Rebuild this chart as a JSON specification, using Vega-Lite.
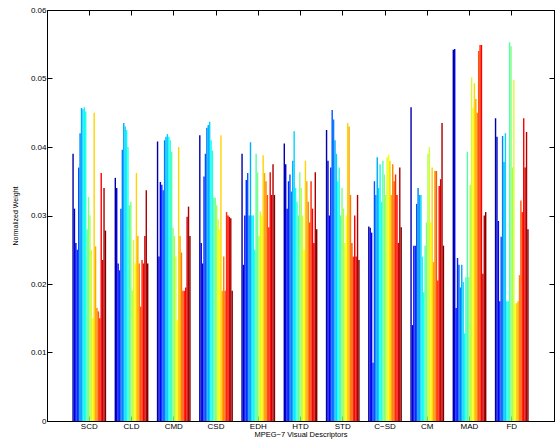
{
  "$schema": "https://vega.github.io/schema/vega-lite/v6.json",
  "width": 507,
  "height": 411,
  "autosize": "none",
  "padding": {"left": 47, "top": 10, "right": 1, "bottom": 19},
  "background": "white",
  "config": {
    "view": {"stroke": "black", "strokeWidth": 1},
    "axis": {
      "grid": false,
      "domainColor": "black",
      "tickColor": "black",
      "labelColor": "black",
      "titleColor": "black",
      "labelFont": "Liberation Sans",
      "titleFont": "Liberation Sans",
      "labelFontSize": 8,
      "titleFontSize": 8,
      "titleFontWeight": "normal"
    }
  },
  "datasets": {
    "w": [
      {"d":"SCD","k":1,"w":0.039},{"d":"SCD","k":2,"w":0.031},{"d":"SCD","k":3,"w":0.026},{"d":"SCD","k":4,"w":0.025},{"d":"SCD","k":5,"w":0.037},{"d":"SCD","k":6,"w":0.042},{"d":"SCD","k":7,"w":0.0457},{"d":"SCD","k":8,"w":0.0455},{"d":"SCD","k":9,"w":0.0458},{"d":"SCD","k":10,"w":0.0452},{"d":"SCD","k":11,"w":0.028},{"d":"SCD","k":12,"w":0.0327},{"d":"SCD","k":13,"w":0.030},{"d":"SCD","k":14,"w":0.025},{"d":"SCD","k":15,"w":0.015},{"d":"SCD","k":16,"w":0.045},{"d":"SCD","k":17,"w":0.0255},{"d":"SCD","k":18,"w":0.0165},{"d":"SCD","k":19,"w":0.016},{"d":"SCD","k":20,"w":0.015},{"d":"SCD","k":21,"w":0.0362},{"d":"SCD","k":22,"w":0.0235},{"d":"SCD","k":23,"w":0.034},{"d":"SCD","k":24,"w":0.0278},
      {"d":"CLD","k":1,"w":0.0355},{"d":"CLD","k":2,"w":0.034},{"d":"CLD","k":3,"w":0.023},{"d":"CLD","k":4,"w":0.022},{"d":"CLD","k":5,"w":0.031},{"d":"CLD","k":6,"w":0.0396},{"d":"CLD","k":7,"w":0.0435},{"d":"CLD","k":8,"w":0.043},{"d":"CLD","k":9,"w":0.0425},{"d":"CLD","k":10,"w":0.040},{"d":"CLD","k":11,"w":0.0315},{"d":"CLD","k":12,"w":0.032},{"d":"CLD","k":13,"w":0.019},{"d":"CLD","k":14,"w":0.0264},{"d":"CLD","k":15,"w":0.023},{"d":"CLD","k":16,"w":0.0362},{"d":"CLD","k":17,"w":0.027},{"d":"CLD","k":18,"w":0.023},{"d":"CLD","k":19,"w":0.0167},{"d":"CLD","k":20,"w":0.0235},{"d":"CLD","k":21,"w":0.023},{"d":"CLD","k":22,"w":0.027},{"d":"CLD","k":23,"w":0.0337},{"d":"CLD","k":24,"w":0.023},
      {"d":"CMD","k":1,"w":0.0408},{"d":"CMD","k":2,"w":0.024},{"d":"CMD","k":3,"w":0.0349},{"d":"CMD","k":4,"w":0.0345},{"d":"CMD","k":5,"w":0.0337},{"d":"CMD","k":6,"w":0.041},{"d":"CMD","k":7,"w":0.0415},{"d":"CMD","k":8,"w":0.0419},{"d":"CMD","k":9,"w":0.0415},{"d":"CMD","k":10,"w":0.041},{"d":"CMD","k":11,"w":0.0393},{"d":"CMD","k":12,"w":0.0282},{"d":"CMD","k":13,"w":0.027},{"d":"CMD","k":14,"w":0.024},{"d":"CMD","k":15,"w":0.0147},{"d":"CMD","k":16,"w":0.040},{"d":"CMD","k":17,"w":0.027},{"d":"CMD","k":18,"w":0.0246},{"d":"CMD","k":19,"w":0.019},{"d":"CMD","k":20,"w":0.019},{"d":"CMD","k":21,"w":0.0195},{"d":"CMD","k":22,"w":0.0298},{"d":"CMD","k":23,"w":0.0313},{"d":"CMD","k":24,"w":0.027},
      {"d":"CSD","k":1,"w":0.0417},{"d":"CSD","k":2,"w":0.026},{"d":"CSD","k":3,"w":0.023},{"d":"CSD","k":4,"w":0.0357},{"d":"CSD","k":5,"w":0.039},{"d":"CSD","k":6,"w":0.0428},{"d":"CSD","k":7,"w":0.0432},{"d":"CSD","k":8,"w":0.0437},{"d":"CSD","k":9,"w":0.041},{"d":"CSD","k":10,"w":0.0395},{"d":"CSD","k":11,"w":0.0326},{"d":"CSD","k":12,"w":0.0326},{"d":"CSD","k":13,"w":0.0315},{"d":"CSD","k":14,"w":0.0294},{"d":"CSD","k":15,"w":0.028},{"d":"CSD","k":16,"w":0.0417},{"d":"CSD","k":17,"w":0.019},{"d":"CSD","k":18,"w":0.024},{"d":"CSD","k":19,"w":0.019},{"d":"CSD","k":20,"w":0.0305},{"d":"CSD","k":21,"w":0.030},{"d":"CSD","k":22,"w":0.0298},{"d":"CSD","k":23,"w":0.0296},{"d":"CSD","k":24,"w":0.019},
      {"d":"EDH","k":1,"w":0.039},{"d":"EDH","k":2,"w":0.0228},{"d":"EDH","k":3,"w":0.030},{"d":"EDH","k":4,"w":0.0352},{"d":"EDH","k":5,"w":0.0362},{"d":"EDH","k":6,"w":0.030},{"d":"EDH","k":7,"w":0.0407},{"d":"EDH","k":8,"w":0.030},{"d":"EDH","k":9,"w":0.030},{"d":"EDH","k":10,"w":0.025},{"d":"EDH","k":11,"w":0.039},{"d":"EDH","k":12,"w":0.0363},{"d":"EDH","k":13,"w":0.027},{"d":"EDH","k":14,"w":0.0306},{"d":"EDH","k":15,"w":0.030},{"d":"EDH","k":16,"w":0.0388},{"d":"EDH","k":17,"w":0.0362},{"d":"EDH","k":18,"w":0.035},{"d":"EDH","k":19,"w":0.033},{"d":"EDH","k":20,"w":0.0283},{"d":"EDH","k":21,"w":0.0363},{"d":"EDH","k":22,"w":0.033},{"d":"EDH","k":23,"w":0.0375},{"d":"EDH","k":24,"w":0.033},
      {"d":"HTD","k":1,"w":0.0405},{"d":"HTD","k":2,"w":0.0375},{"d":"HTD","k":3,"w":0.031},{"d":"HTD","k":4,"w":0.035},{"d":"HTD","k":5,"w":0.036},{"d":"HTD","k":6,"w":0.0335},{"d":"HTD","k":7,"w":0.038},{"d":"HTD","k":8,"w":0.0423},{"d":"HTD","k":9,"w":0.034},{"d":"HTD","k":10,"w":0.032},{"d":"HTD","k":11,"w":0.030},{"d":"HTD","k":12,"w":0.0363},{"d":"HTD","k":13,"w":0.034},{"d":"HTD","k":14,"w":0.030},{"d":"HTD","k":15,"w":0.025},{"d":"HTD","k":16,"w":0.038},{"d":"HTD","k":17,"w":0.035},{"d":"HTD","k":18,"w":0.032},{"d":"HTD","k":19,"w":0.029},{"d":"HTD","k":20,"w":0.035},{"d":"HTD","k":21,"w":0.031},{"d":"HTD","k":22,"w":0.026},{"d":"HTD","k":23,"w":0.0363},{"d":"HTD","k":24,"w":0.028},
      {"d":"STD","k":1,"w":0.0425},{"d":"STD","k":2,"w":0.038},{"d":"STD","k":3,"w":0.030},{"d":"STD","k":4,"w":0.037},{"d":"STD","k":5,"w":0.0454},{"d":"STD","k":6,"w":0.044},{"d":"STD","k":7,"w":0.041},{"d":"STD","k":8,"w":0.039},{"d":"STD","k":9,"w":0.035},{"d":"STD","k":10,"w":0.037},{"d":"STD","k":11,"w":0.030},{"d":"STD","k":12,"w":0.034},{"d":"STD","k":13,"w":0.031},{"d":"STD","k":14,"w":0.026},{"d":"STD","k":15,"w":0.030},{"d":"STD","k":16,"w":0.0435},{"d":"STD","k":17,"w":0.043},{"d":"STD","k":18,"w":0.033},{"d":"STD","k":19,"w":0.026},{"d":"STD","k":20,"w":0.024},{"d":"STD","k":21,"w":0.030},{"d":"STD","k":22,"w":0.024},{"d":"STD","k":23,"w":0.033},{"d":"STD","k":24,"w":0.0235},
      {"d":"C−SD","k":1,"w":0.0284},{"d":"C−SD","k":2,"w":0.0282},{"d":"C−SD","k":3,"w":0.0275},{"d":"C−SD","k":4,"w":0.0085},{"d":"C−SD","k":5,"w":0.035},{"d":"C−SD","k":6,"w":0.033},{"d":"C−SD","k":7,"w":0.0385},{"d":"C−SD","k":8,"w":0.034},{"d":"C−SD","k":9,"w":0.0375},{"d":"C−SD","k":10,"w":0.032},{"d":"C−SD","k":11,"w":0.038},{"d":"C−SD","k":12,"w":0.036},{"d":"C−SD","k":13,"w":0.033},{"d":"C−SD","k":14,"w":0.0385},{"d":"C−SD","k":15,"w":0.0389},{"d":"C−SD","k":16,"w":0.038},{"d":"C−SD","k":17,"w":0.033},{"d":"C−SD","k":18,"w":0.0375},{"d":"C−SD","k":19,"w":0.035},{"d":"C−SD","k":20,"w":0.036},{"d":"C−SD","k":21,"w":0.033},{"d":"C−SD","k":22,"w":0.026},{"d":"C−SD","k":23,"w":0.037},{"d":"C−SD","k":24,"w":0.0283},
      {"d":"CM","k":1,"w":0.0458},{"d":"CM","k":2,"w":0.014},{"d":"CM","k":3,"w":0.0256},{"d":"CM","k":4,"w":0.0256},{"d":"CM","k":5,"w":0.0317},{"d":"CM","k":6,"w":0.034},{"d":"CM","k":7,"w":0.033},{"d":"CM","k":8,"w":0.033},{"d":"CM","k":9,"w":0.024},{"d":"CM","k":10,"w":0.0188},{"d":"CM","k":11,"w":0.0256},{"d":"CM","k":12,"w":0.029},{"d":"CM","k":13,"w":0.039},{"d":"CM","k":14,"w":0.040},{"d":"CM","k":15,"w":0.029},{"d":"CM","k":16,"w":0.037},{"d":"CM","k":17,"w":0.0232},{"d":"CM","k":18,"w":0.0365},{"d":"CM","k":19,"w":0.0365},{"d":"CM","k":20,"w":0.0205},{"d":"CM","k":21,"w":0.0343},{"d":"CM","k":22,"w":0.0353},{"d":"CM","k":23,"w":0.0435},{"d":"CM","k":24,"w":0.0256},
      {"d":"MAD","k":1,"w":0.0542},{"d":"MAD","k":2,"w":0.0543},{"d":"MAD","k":3,"w":0.0165},{"d":"MAD","k":4,"w":0.0238},{"d":"MAD","k":5,"w":0.0228},{"d":"MAD","k":6,"w":0.0195},{"d":"MAD","k":7,"w":0.0228},{"d":"MAD","k":8,"w":0.0203},{"d":"MAD","k":9,"w":0.0128},{"d":"MAD","k":10,"w":0.021},{"d":"MAD","k":11,"w":0.0393},{"d":"MAD","k":12,"w":0.021},{"d":"MAD","k":13,"w":0.0345},{"d":"MAD","k":14,"w":0.0502},{"d":"MAD","k":15,"w":0.0457},{"d":"MAD","k":16,"w":0.0493},{"d":"MAD","k":17,"w":0.047},{"d":"MAD","k":18,"w":0.045},{"d":"MAD","k":19,"w":0.054},{"d":"MAD","k":20,"w":0.0549},{"d":"MAD","k":21,"w":0.0549},{"d":"MAD","k":22,"w":0.0215},{"d":"MAD","k":23,"w":0.030},{"d":"MAD","k":24,"w":0.0305},
      {"d":"FD","k":1,"w":0.0442},{"d":"FD","k":2,"w":0.0415},{"d":"FD","k":3,"w":0.0292},{"d":"FD","k":4,"w":0.0175},{"d":"FD","k":5,"w":0.0269},{"d":"FD","k":6,"w":0.0416},{"d":"FD","k":7,"w":0.0378},{"d":"FD","k":8,"w":0.042},{"d":"FD","k":9,"w":0.0175},{"d":"FD","k":10,"w":0.0175},{"d":"FD","k":11,"w":0.0553},{"d":"FD","k":12,"w":0.0547},{"d":"FD","k":13,"w":0.037},{"d":"FD","k":14,"w":0.0498},{"d":"FD","k":15,"w":0.0172},{"d":"FD","k":16,"w":0.0172},{"d":"FD","k":17,"w":0.0175},{"d":"FD","k":18,"w":0.0213},{"d":"FD","k":19,"w":0.0322},{"d":"FD","k":20,"w":0.0305},{"d":"FD","k":21,"w":0.0442},{"d":"FD","k":22,"w":0.037},{"d":"FD","k":23,"w":0.0422},{"d":"FD","k":24,"w":0.028}
    ]
  },
  "data": {"name": "w"},
  "layer": [
    {
      "mark": {"type": "bar"},
      "encoding": {
        "x": {
          "field": "d", "type": "nominal",
          "sort": ["SCD","CLD","CMD","CSD","EDH","HTD","STD","C−SD","CM","MAD","FD"],
          "scale": {"paddingInner": 0.2, "paddingOuter": 0.6},
          "axis": {"orient": "bottom", "title": "MPEG−7 Visual Descriptors", "titleFontSize": 7.5, "labelAngle": 0, "tickSize": -5, "labelPadding": 6, "titlePadding": 0}
        },
        "xOffset": {"field": "k", "type": "ordinal", "scale": {"paddingInner": 0, "paddingOuter": 0}},
        "y": {
          "field": "w", "type": "quantitative",
          "scale": {"domain": [0, 0.06], "nice": false},
          "axis": {"orient": "left", "title": "Normalized Weight", "titleFontSize": 7, "values": [0, 0.01, 0.02, 0.03, 0.04, 0.05, 0.06], "format": ".2~f", "tickSize": -5, "labelPadding": 6, "titlePadding": 12}
        },
        "color": {
          "field": "k", "type": "ordinal", "legend": null,
          "scale": {"range": ["#0000AA","#0000D4","#0000FF","#002BFF","#0055FF","#0080FF","#00AAFF","#00D4FF","#00FFFF","#2BFFD4","#55FFAA","#80FF80","#AAFF55","#D4FF2B","#FFFF00","#FFD400","#FFAA00","#FF8000","#FF5500","#FF2B00","#FF0000","#D40000","#AA0000","#800000"]}
        }
      }
    },
    {
      "mark": {"type": "bar", "opacity": 0},
      "encoding": {
        "x": {
          "field": "d", "type": "nominal",
          "sort": ["SCD","CLD","CMD","CSD","EDH","HTD","STD","C−SD","CM","MAD","FD"],
          "axis": {"orient": "top", "title": null, "labels": false, "tickSize": -5}
        },
        "y": {
          "field": "w", "type": "quantitative",
          "axis": {"orient": "right", "title": null, "labels": false, "values": [0, 0.01, 0.02, 0.03, 0.04, 0.05, 0.06], "tickSize": -5}
        }
      }
    }
  ],
  "resolve": {"axis": {"x": "independent", "y": "independent"}}
}
